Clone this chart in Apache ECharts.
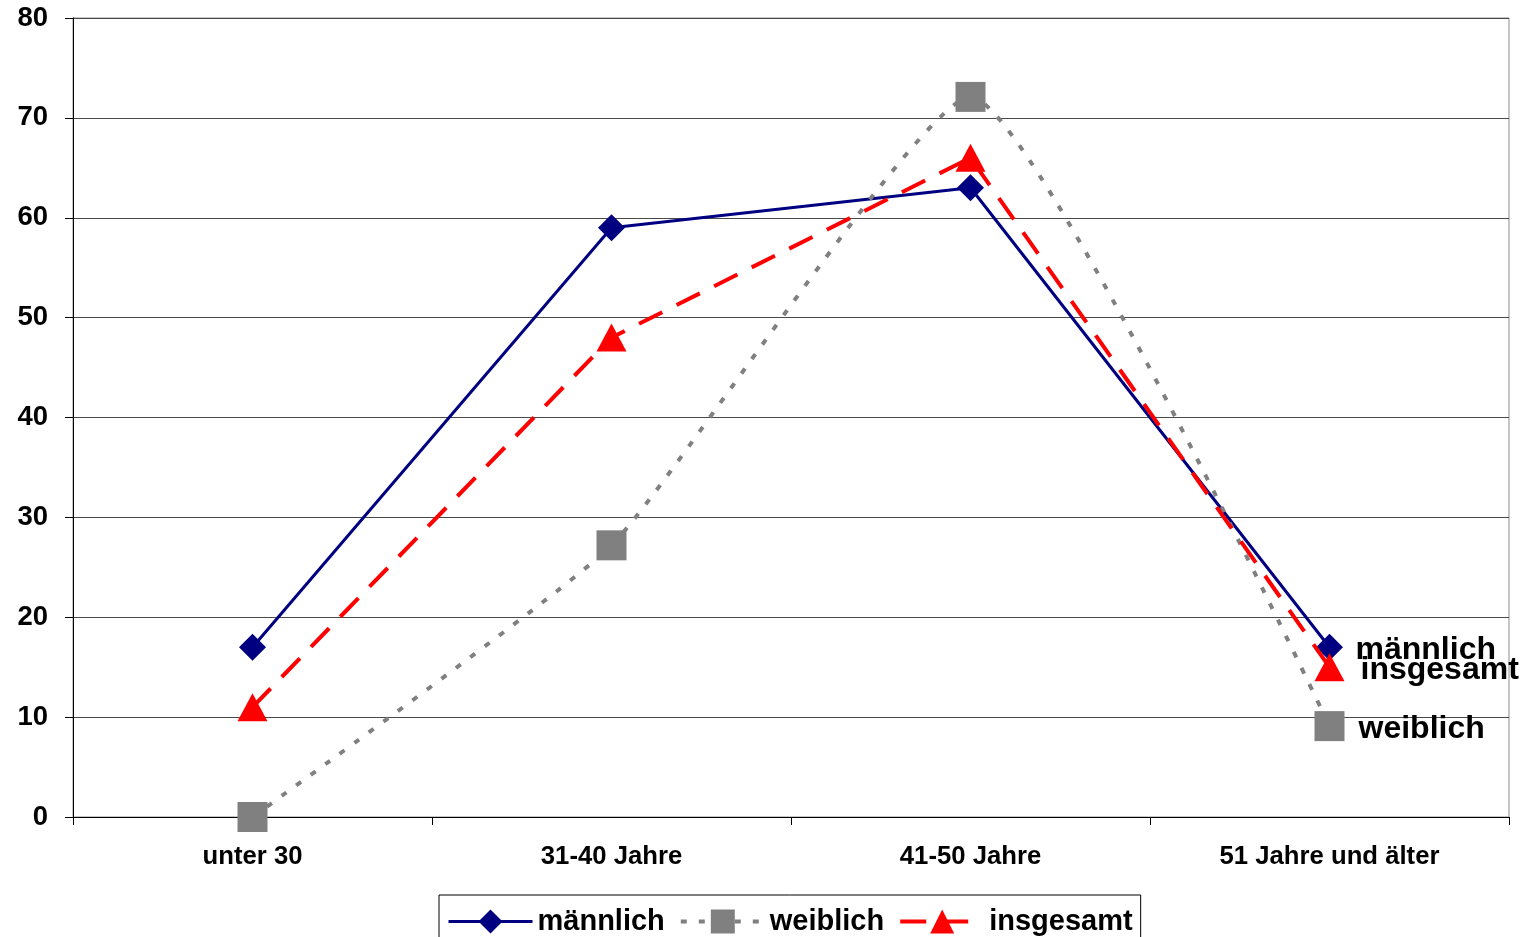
<!DOCTYPE html>
<html>
<head>
<meta charset="utf-8">
<script src="https://cdn.jsdelivr.net/npm/echarts@6/dist/echarts.min.js"></script>
<style>
  html, body { margin: 0; padding: 0; background: #fff; }
  #chart { width: 1526px; height: 937px; }
</style>
</head>
<body>
<div id="chart"></div>
<script>
// Altersgruppen (Kategorien der x-Achse)
const categories = ['unter 30', '31-40 Jahre', '41-50 Jahre', '51 Jahre und älter'];

// Werte je Reihe
const maennlich = [17, 59, 63, 17];
const weiblich  = [0, 27.2, 72.1, 9.1];
const insgesamt = [11, 48, 66, 15];

// y-Achse
const yMin = 0;
const yMax = 80;
const yStep = 10;

const FONT = '"Liberation Sans", Arial, sans-serif';

const chart = echarts.init(document.getElementById('chart'), null, { renderer: 'canvas' });

function endLabel(distance) {
  return {
    show: true,
    formatter: '{a}',
    distance: distance,
    offset: [0, 3],
    color: '#000',
    fontFamily: FONT,
    fontWeight: 'bold',
    fontSize: 32
  };
}

chart.setOption({
  animation: false,
  backgroundColor: '#fff',
  textStyle: { fontFamily: FONT },
  grid: {
    left: 73, right: 17, top: 18, bottom: 120,
    show: true,
    borderColor: '#8c8c8c',
    borderWidth: 1,
    backgroundColor: 'transparent'
  },
  legend: {
    left: 439,
    top: 895,
    padding: [12, 8, 10, 8],
    borderColor: '#000',
    borderWidth: 1,
    backgroundColor: '#fff',
    itemWidth: 84,
    itemHeight: 30,
    itemGap: 14,
    itemTextGap: 7,
    lineStyle: { width: 'inherit' },
    textStyle: { fontFamily: FONT, fontWeight: 'bold', fontSize: 29, color: '#000' },
    data: ['männlich', 'weiblich', 'insgesamt']
  },
  xAxis: {
    type: 'category',
    data: categories,
    boundaryGap: true,
    axisLine: { show: true, lineStyle: { color: '#000', width: 1 } },
    axisTick: { show: true, length: 8, inside: false, alignWithLabel: false, lineStyle: { color: '#000' } },
    axisLabel: { color: '#000', fontFamily: FONT, fontWeight: 'bold', fontSize: 25.7, margin: 27 },
    splitLine: { show: false }
  },
  yAxis: {
    type: 'value',
    min: yMin,
    max: yMax,
    interval: yStep,
    axisLine: { show: true, lineStyle: { color: '#000', width: 1 } },
    axisTick: { show: true, length: 8, inside: false, lineStyle: { color: '#000' } },
    axisLabel: { color: '#000', fontFamily: FONT, fontWeight: 'bold', fontSize: 27.5, margin: 25 },
    splitLine: { show: true, lineStyle: { color: '#4a4a4a', width: 1 } }
  },
  series: [
    {
      name: 'männlich',
      type: 'line',
      data: maennlich,
      symbol: 'diamond',
      symbolSize: 27,
      showAllSymbol: true,
      lineStyle: { color: '#000080', width: 3, type: 'solid' },
      itemStyle: { color: '#000080', borderWidth: 0 },
      endLabel: endLabel(26),
      z: 2
    },
    {
      name: 'weiblich',
      type: 'line',
      data: weiblich,
      smooth: 0.15,
      symbol: 'rect',
      symbolSize: 30,
      showAllSymbol: true,
      lineStyle: { color: '#808080', width: 4, type: [6, 12] },
      itemStyle: { color: '#808080', borderWidth: 0 },
      endLabel: endLabel(29),
      z: 3
    },
    {
      name: 'insgesamt',
      type: 'line',
      data: insgesamt,
      symbol: 'triangle',
      symbolSize: [30, 28],
      showAllSymbol: true,
      lineStyle: { color: '#ff0000', width: 4, type: [26, 16] },
      itemStyle: { color: '#ff0000', borderWidth: 0 },
      endLabel: endLabel(31),
      z: 4
    }
  ]
});
</script>
</body>
</html>
